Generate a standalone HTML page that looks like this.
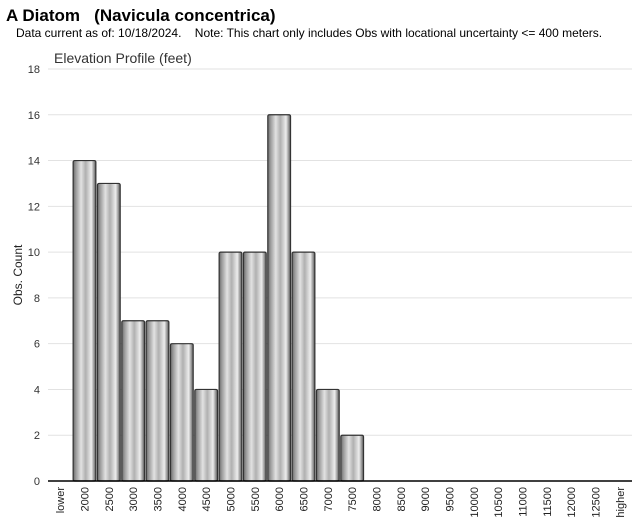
<!DOCTYPE html>
<html><head><meta charset="utf-8"><style>
body{margin:0;background:#fff;width:640px;height:523px;overflow:hidden;font-family:"Liberation Sans",Arial,sans-serif}
</style></head><body>
<svg width="640" height="523" xmlns="http://www.w3.org/2000/svg">
<defs>
<linearGradient id="bg" x1="0" x2="1" y1="0" y2="0">
<stop offset="0" stop-color="#6a6a6a"/><stop offset="0.12" stop-color="#9a9a9a"/>
<stop offset="0.35" stop-color="#e2e2e2"/><stop offset="0.55" stop-color="#b0b0b0"/>
<stop offset="0.8" stop-color="#ededed"/><stop offset="1" stop-color="#5a5a5a"/>
</linearGradient>
</defs>
<text x="6" y="21" font-size="17" font-weight="bold" fill="#000" xml:space="preserve">A Diatom   (Navicula concentrica)</text>
<text x="16" y="37" font-size="12" fill="#000" xml:space="preserve">Data current as of: 10/18/2024.    Note: This chart only includes Obs with locational uncertainty &lt;= 400 meters.</text>
<text x="54" y="63" font-size="14" fill="#333">Elevation Profile (feet)</text>
<text transform="translate(22,275) rotate(-90)" text-anchor="middle" font-size="12" fill="#222">Obs. Count</text>
<g id="grid"></g><g id="bars"></g><g id="xl"></g>
<line x1="48" x2="632" y1="481" y2="481" stroke="#000" stroke-width="1.5"/>
</svg>
<script>
const categories=["lower","2000","2500","3000","3500","4000","4500","5000","5500","6000","6500","7000","7500","8000","8500","9000","9500","10000","10500","11000","11500","12000","12500","higher"];
const counts=[0,14,13,7,7,6,4,10,10,16,10,4,2,0,0,0,0,0,0,0,0,0,0,0];
const yTicks=[0,2,4,6,8,10,12,14,16,18];
const NS="http://www.w3.org/2000/svg";
const x0=48,x1=632,yb=481,yt=69,ymax=18;
const band=(x1-x0)/categories.length;
const xs=i=>x0+i*band;
const ys=v=>yb-(v/ymax)*(yb-yt);
const g=document.getElementById('grid'),b=document.getElementById('bars'),xl=document.getElementById('xl');
function mk(t,a){const e=document.createElementNS(NS,t);for(const k in a)e.setAttribute(k,a[k]);return e;}
yTicks.forEach(v=>{
 const l=mk('line',{x1:x0,x2:x1,y1:ys(v),y2:ys(v),stroke:'#e2e2e2'});
 
 
 g.appendChild(l);
 const t=mk('text',{x:40,y:ys(v)+4,'text-anchor':'end','font-size':11,fill:'#333'});
 
 
 t.textContent=v;g.appendChild(t);
});
categories.forEach((c,i)=>{
 const cx=xs(i)+band/2;
 if(counts[i]>0){
  const r=mk('rect',{x:xs(i)+0.8,y:ys(counts[i]),width:band-1.6,height:yb-ys(counts[i]),fill:'url(#bg)',stroke:'#333','stroke-width':1.2,rx:1.5});
  
  
  b.appendChild(r);
 }
 const t=mk('text',{transform:'translate('+(cx+4)+',487) rotate(-90)','text-anchor':'end','font-size':11,fill:'#222'});
 
 
 t.textContent=c;xl.appendChild(t);
});
</script>
</body></html>
